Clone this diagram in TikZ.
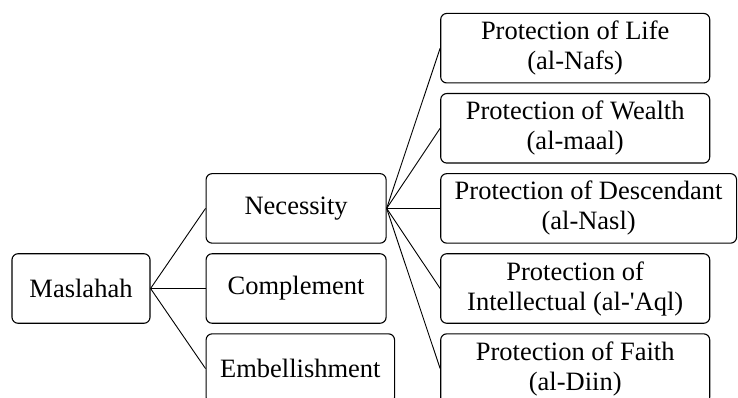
\documentclass[tikz,border=0pt]{standalone}
\usepackage{fontspec}
\setmainfont{Liberation Serif}
\usetikzlibrary{positioning}

\begin{document}
\begin{tikzpicture}[x=1pt,y=-1pt,align=center,node distance=9.5pt,
font=\fontsize{26.5}{30}\selectfont,
scatola/.style={draw,rounded corners=6pt,line width=1.1pt,inner xsep=14pt,minimum height=69.5pt},
medio/.style={scatola,minimum width=180pt},
tutela/.style={scatola,minimum width=269pt},
ramo/.style={line width=0.9pt}
]
\clip (0,0) rectangle (738,398);
\node[scatola,minimum width=138pt](m) at (81,288.5){Maslahah};
%--
\node[medio,right = 55pt of m](c){Complement};
\node[medio,above = of c](n){Necessity};
\node[medio,below = of c.south west,anchor=north west](e){Embellishment};
\draw[ramo] (m.east) -- (n.west);
\draw[ramo] (m.east) -- (c.west);
\draw[ramo] (m.east) -- (e.west);
%----
\node[tutela,right = 53.5pt of n](p3){Protection of Descendant\\(al-Nasl)};
\node[tutela,above = of p3.north west,anchor=south west](p2){Protection of Wealth\\(al-maal)};
\node[tutela,above = of p2.north west,anchor=south west](p1){Protection of Life\\(al-Nafs)};
\node[tutela,below = of p3.south west,anchor=north west](p4){Protection of\\Intellectual (al-\textquotesingle Aql)};
\node[tutela,below = of p4.south west,anchor=north west](p5){Protection of Faith\\(al-Diin)};
%--
\foreach \p in {p1,p2,p3,p4,p5}
  \draw[ramo] (n.east) -- (\p.west);
\end{tikzpicture}
\end{document}
